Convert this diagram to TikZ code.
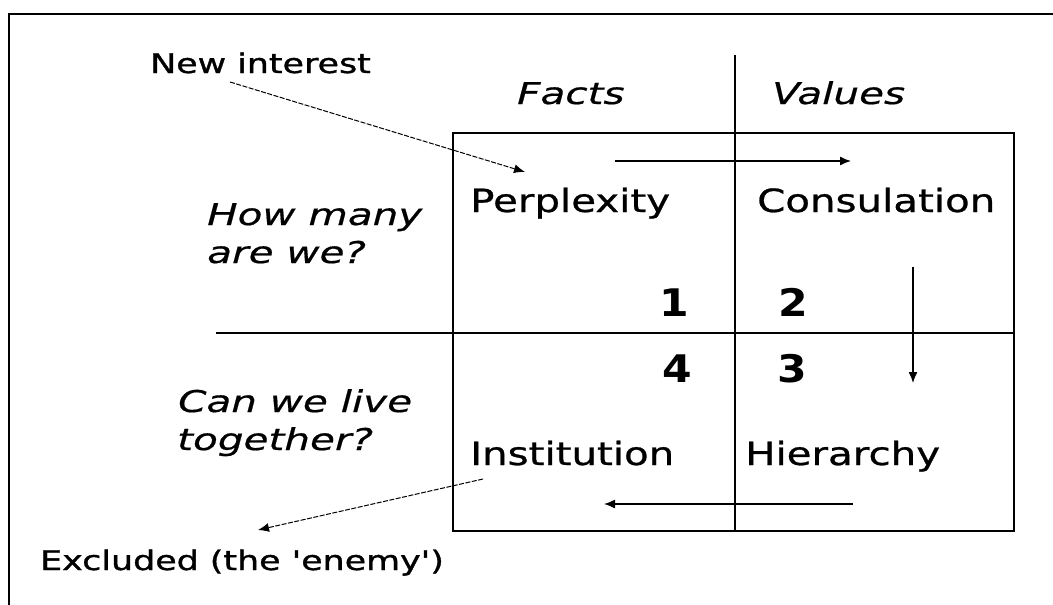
\documentclass[tikz,border=0pt]{standalone}
\usepackage{fontspec}
\usetikzlibrary{arrows.meta}
% Wide, screen-like sans faces for the labels of the chart
\newfontfamily\labelfont[FakeStretch=1.29,FakeBold=1.2]{DejaVu Sans}
\newfontfamily\cellfont[FakeStretch=1.26,FakeBold=0.8]{DejaVu Sans}
\newfontfamily\askfont[FakeStretch=1.35,FakeBold=0.6]{DejaVu Sans}
\newfontfamily\numfont[FakeStretch=1.12]{DejaVu Sans}

\tikzset{
  frameline/.style={line width=2pt},
  gridline/.style={line width=2pt},
  flow/.style={line width=1.3pt,-{Latex[length=11pt,width=9pt]}},
  link/.style={line width=1pt,dash pattern=on 5pt off 1.5pt,-{Latex[length=11pt,width=9pt]}},
  lbl/.style={inner sep=0pt,anchor=base west,font=\labelfont\fontsize{27}{27}\selectfont},
  cell/.style={inner sep=0pt,anchor=base west,font=\cellfont\fontsize{32}{32}\selectfont},
  ask/.style={inner sep=0pt,anchor=base west,font=\askfont\itshape\fontsize{30}{30}\selectfont},
  num/.style={inner sep=0pt,font=\numfont\bfseries\fontsize{38}{38}\selectfont},
}

\begin{document}
\begin{tikzpicture}[x=1pt,y=-1pt]
\useasboundingbox (0,0) rectangle (1053,605);

% outer frame (left and top edges)
\draw[frameline] (9,605) -- (9,14) -- (1053,14);

% the four-cell box and its dividers
\draw[gridline] (453,133) rectangle (1014,531);
\draw[gridline] (735,55) -- (735,531);
\draw[gridline] (216,333) -- (1014,333);

% column and row headings
\node[ask] (facts)  at (517,104) {Facts};
\node[ask] (values) at (772,104) {Values};
\node[ask] (q1a) at (207,225) {How many};
\node[ask] (q1b) at (207,263) {are we?};
\node[ask] (q2a) at (178,412) {Can we live};
\node[ask] (q2b) at (177,450) {together?};

% cell names
\node[cell] (perp) at (470,212) {Perplexity};
\node[cell] (cons) at (757,212) {Consulation};
\node[cell] (inst) at (470,465) {Institution};
\node[cell] (hier) at (745,465) {Hierarchy};

% cell numbers
\node[num,anchor=base east] (n1) at (689,316) {1};
\node[num,anchor=base west] (n2) at (778,316) {2};
\node[num,anchor=base east] (n4) at (692,382) {4};
\node[num,anchor=base west] (n3) at (777,382) {3};

% outside labels
\node[lbl] (newint) at (150,73) {New interest};
\node[lbl] (excl)   at (40,570) {Excluded (the 'enemy')};

% cycle through the cells
\coordinate (c12from) at (615,161);
\coordinate (c12to)   at (851,161);
\coordinate (c23from) at (913,267);
\coordinate (c23to)   at (913,383);
\coordinate (c34from) at (853,504);
\coordinate (c34to)   at (604,504);
\draw[flow] (c12from) -- (c12to);
\draw[flow] (c23from) -- (c23to);
\draw[flow] (c34from) -- (c34to);

% entry and exit links
\coordinate (niout) at (230,82);
\coordinate (niin)  at (525,172);
\coordinate (exout) at (483,479);
\coordinate (exin)  at (258,530);
\draw[link] (niout) -- (niin);
\draw[link] (exout) -- (exin);
\end{tikzpicture}
\end{document}
